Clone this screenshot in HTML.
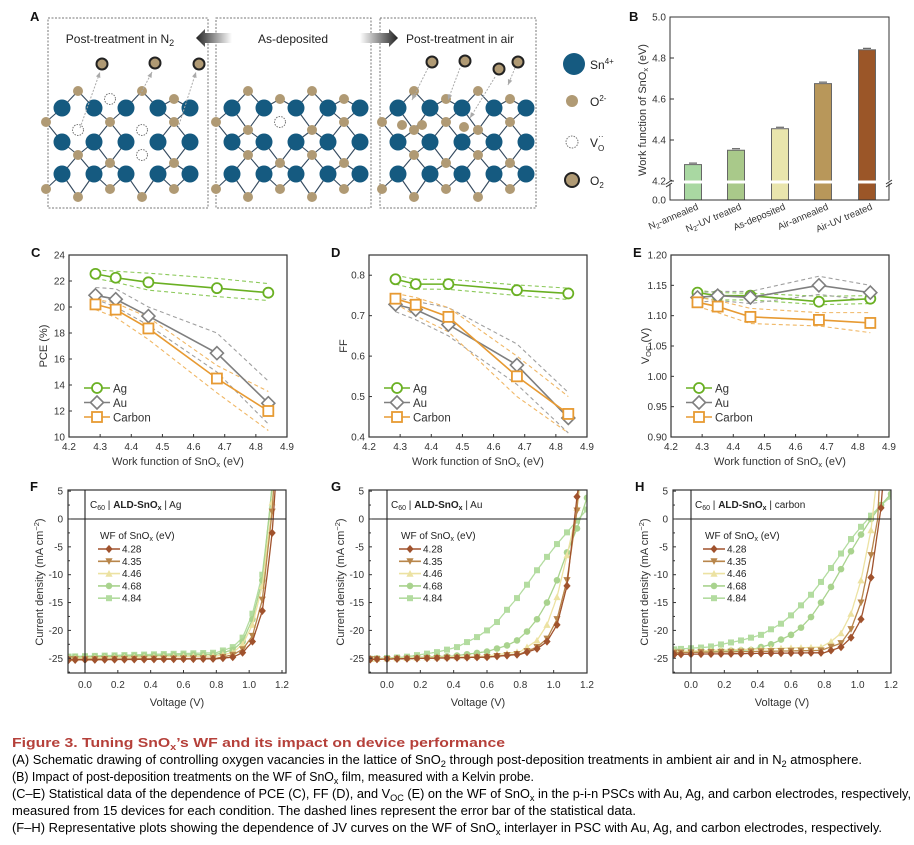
<!DOCTYPE html>
<html><head><meta charset="utf-8"><style>
html,body{margin:0;padding:0;background:#fff;}
svg{display:block;font-family:"Liberation Sans",Arial,sans-serif;}
</style></head><body>
<svg id="s" width="914" height="845" viewBox="0 0 914 845" xmlns="http://www.w3.org/2000/svg">
<defs>
<linearGradient id="gl" x1="0" x2="1"><stop offset="0" stop-color="#222"/><stop offset="1" stop-color="#fff"/></linearGradient>
<linearGradient id="gr" x1="0" x2="1"><stop offset="0" stop-color="#fff"/><stop offset="1" stop-color="#222"/></linearGradient>
</defs>
<g id="g"></g>
<g font-size="12.5">
<text x="12" y="747" fill="#b5403a" font-weight="bold" font-size="13" textLength="493" lengthAdjust="spacingAndGlyphs">Figure 3.  Tuning SnO<tspan font-size="9" dy="3">x</tspan><tspan dy="-3">’s WF and its impact on device performance</tspan></text>
<text x="12" y="764" textLength="850" lengthAdjust="spacingAndGlyphs">(A) Schematic drawing of controlling oxygen vacancies in the lattice of SnO<tspan font-size="9" dy="3">2</tspan><tspan dy="-3"> through post-deposition treatments in ambient air and in N</tspan><tspan font-size="9" dy="3">2</tspan><tspan dy="-3"> atmosphere.</tspan></text>
<text x="12" y="781" textLength="522" lengthAdjust="spacingAndGlyphs">(B) Impact of post-deposition treatments on the WF of SnO<tspan font-size="9" dy="3">x</tspan><tspan dy="-3"> film, measured with a Kelvin probe.</tspan></text>
<text x="12" y="798" textLength="899" lengthAdjust="spacingAndGlyphs">(C–E) Statistical data of the dependence of PCE (C), FF (D), and V<tspan font-size="9" dy="3">OC</tspan><tspan dy="-3"> (E) on the WF of SnO</tspan><tspan font-size="9" dy="3">x</tspan><tspan dy="-3"> in the p-i-n PSCs with Au, Ag, and carbon electrodes, respectively,</tspan></text>
<text x="12" y="815" textLength="624" lengthAdjust="spacingAndGlyphs">measured from 15 devices for each condition. The dashed lines represent the error bar of the statistical data.</text>
<text x="12" y="832" textLength="870" lengthAdjust="spacingAndGlyphs">(F–H) Representative plots showing the dependence of JV curves on the WF of SnO<tspan font-size="9" dy="3">x</tspan><tspan dy="-3"> interlayer in PSC with Au, Ag, and carbon electrodes, respectively.</tspan></text>
</g>
</svg>
<script>
var out=[];
function a(s){out.push(s);}
function t(x,y,s,o){o=o||{};a('<text x="'+x+'" y="'+y+'" font-size="'+(o.fs||10)+'" fill="'+(o.c||'#333')+'" text-anchor="'+(o.an||'start')+'"'+(o.w?' font-weight="bold"':'')+(o.tr?' transform="'+o.tr+'"':'')+'>'+s+'</text>');}
// ---------- Panel A ----------
t(30,21,'A',{fs:13,w:1,c:'#111'});
[[48,208],[216,371],[380,536]].forEach(function(b){a('<rect x="'+b[0]+'" y="18" width="'+(b[1]-b[0])+'" height="190" fill="none" stroke="#777" stroke-dasharray="2,1.5" stroke-width="1"/>');});
t(120,43,'Post-treatment in N<tspan font-size="9" dy="3">2</tspan>',{fs:12,an:'middle',c:'#222'});
t(293,43,'As-deposited',{fs:12,an:'middle',c:'#222'});
t(460,43,'Post-treatment in air',{fs:12,an:'middle',c:'#222'});
a('<polygon points="196,38 205,29 205,33 232,33 232,43 205,43 205,47" fill="url(#gl)"/>');
a('<polygon points="398,38 389,29 389,33 360,33 360,43 389,43 389,47" fill="url(#gr)"/>');
function lattice(x0,vac,extra){
 var cols=[0,32,64,96,128].map(function(d){return x0+d;}),rows=[108,142,174];
 var os=[];
 var lv=[[94,-1],[125,0],[158,1],[192,2]];
 lv.forEach(function(L,li){
  for(var i=0;i<5;i++){
   var ox=cols[i]+(li%2?16:-16)+((li==3)?0:0);
   if(li%2==0) ox=cols[i]+16; else ox=cols[i]-16+32*(i==0?0:0);
   var oy=L[0]+((i%2)?5:-3);
   if(ox>cols[4]+10) continue;
   var key=li+'_'+i;
   var isV=vac.indexOf(key)>=0;
   // bonds
   var ab=L[1],bl=L[1]+1;
   [[i,ab],[i+(li%2?-1:1),ab],[i,bl],[i+(li%2?-1:1),bl]].forEach(function(p){
     if(p[0]>=0&&p[0]<5&&p[1]>=0&&p[1]<3&&!isV) a('<line x1="'+ox+'" y1="'+oy+'" x2="'+cols[p[0]]+'" y2="'+rows[p[1]]+'" stroke="#34495e" stroke-width="1.1"/>');
   });
   os.push([ox,oy,isV]);
  }
 });
 rows.forEach(function(y){cols.forEach(function(x){a('<circle cx="'+x+'" cy="'+y+'" r="8.5" fill="#155a80"/>');});});
 os.forEach(function(o){ if(o[2]) a('<circle cx="'+o[0]+'" cy="'+o[1]+'" r="5.5" fill="#fff" stroke="#777" stroke-dasharray="1.5,1.2"/>'); else a('<circle cx="'+o[0]+'" cy="'+o[1]+'" r="5" fill="#b09a74"/>');});
}
lattice(62,['0_1','1_3','2_2','1_1']);
lattice(232,['1_2']);
lattice(398,[]);
[[402,125],[422,125],[464,127]].forEach(function(p){a('<circle cx="'+p[0]+'" cy="'+p[1]+'" r="5" fill="#b09a74"/>');});
function o2(x,y){a('<circle cx="'+x+'" cy="'+y+'" r="5.5" fill="#b09a74" stroke="#222" stroke-width="2"/>');}
[[102,64],[155,63],[199,64]].forEach(function(p){o2(p[0],p[1]);});
[[432,62],[465,61],[499,69],[518,62]].forEach(function(p){o2(p[0],p[1]);});
function darr(x1,y1,x2,y2){a('<line x1="'+x1+'" y1="'+y1+'" x2="'+x2+'" y2="'+y2+'" stroke="#aaa" stroke-dasharray="2,1.5"/>');var ang=Math.atan2(y2-y1,x2-x1);a('<polygon points="'+x2+','+y2+' '+(x2-6*Math.cos(ang-0.4))+','+(y2-6*Math.sin(ang-0.4))+' '+(x2-6*Math.cos(ang+0.4))+','+(y2-6*Math.sin(ang+0.4))+'" fill="#aaa"/>');}
darr(80,128,100,72);darr(140,95,152,72);darr(178,128,196,72);
darr(428,68,412,100);darr(460,68,448,100);darr(495,77,470,118);darr(515,68,508,85);
a('<circle cx="574" cy="64" r="11" fill="#155a80"/>');t(590,69,'Sn<tspan font-size="8" dy="-5">4+</tspan>',{fs:12,c:'#222'});
a('<circle cx="572" cy="101" r="6" fill="#b09a74"/>');t(590,106,'O<tspan font-size="8" dy="-5">2-</tspan>',{fs:12,c:'#222'});
a('<circle cx="572" cy="142" r="6" fill="#fff" stroke="#777" stroke-dasharray="1.5,1.2"/>');t(590,147,'V<tspan font-size="8" dy="4">O</tspan><tspan font-size="8" dx="-6" dy="-12">··</tspan>',{fs:12,c:'#222'});
a('<circle cx="572" cy="180" r="7" fill="#b09a74" stroke="#222" stroke-width="2"/>');t(590,185,'O<tspan font-size="8" dy="3">2</tspan>',{fs:12,c:'#222'});
// ---------- Panel B ----------
t(629,21,'B',{fs:13,w:1,c:'#111'});
(function(){
 var L=670,R=889,T=17,B=200;
 function sy(v){return 181-(v-4.2)*(181-58)/0.6;}
 var bars=[[693,4.28,'#a9d8a2','N<tspan font-size="7" dy="2">2</tspan><tspan dy="-2">-annealed</tspan>'],[736,4.35,'#a9c98a','N<tspan font-size="7" dy="2">2</tspan><tspan dy="-2">-UV treated</tspan>'],[780,4.455,'#e9e5ad','As-deposited'],[823,4.675,'#b8975a','Air-annealed'],[867,4.84,'#9b5628','Air-UV treated']];
 bars.forEach(function(b){var y=sy(b[1]);a('<rect x="'+(b[0]-8.5)+'" y="'+y+'" width="17" height="'+(B-y)+'" fill="'+b[2]+'" stroke="#666" stroke-width="1"/>');
   a('<line x1="'+(b[0]-4)+'" y1="'+(y-1.5)+'" x2="'+(b[0]+4)+'" y2="'+(y-1.5)+'" stroke="#444"/>');
   t(b[0]+6,209,b[3],{fs:9.5,an:'end',tr:'rotate(-23 '+(b[0]+6)+' 209)'});});
 a('<rect x="'+L+'" y="'+T+'" width="'+(R-L)+'" height="'+(B-T)+'" fill="none" stroke="#333" stroke-width="1"/>');
 a('<rect x="'+(L-4)+'" y="180.5" width="'+(R-L+8)+'" height="3" fill="#fff"/>');
 a('<path d="M'+(L-4)+',184 l6,-4 M'+(L-4)+',187 l6,-4 M'+(R-3)+',184 l6,-4 M'+(R-3)+',187 l6,-4" stroke="#333"/>');
 [[5.0,'5.0'],[4.8,'4.8'],[4.6,'4.6'],[4.4,'4.4'],[4.2,'4.2']].forEach(function(p){var y=sy(p[0]);t(L-4,y+3.5,p[1],{fs:10,an:'end'});a('<line x1="'+L+'" x2="'+(L+4)+'" y1="'+y+'" y2="'+y+'" stroke="#333"/>');});
 t(L-4,B+3.5,'0.0',{fs:10,an:'end'});
 t(646,110,'Work function of SnO<tspan font-size="7.5" dy="2">x</tspan><tspan dy="-2"> (eV)</tspan>',{fs:11,an:'middle',tr:'rotate(-90 646 110)'});
})();
// ---------- Panels C-E ----------
var X=[4.285,4.35,4.455,4.675,4.84];
function stat(L,letter,ymin,ymax,ticks,fmt,ylab,data){
 var R=L+218,T=255,B=437;
 function sx(v){return L+(v-4.2)/0.7*(R-L);} function sy(v){return B-(v-ymin)/(ymax-ymin)*(B-T);}
 t(L-38,T+2,letter,{fs:13,w:1,c:'#111'});
 var cols=[['#6ab023','#8cc95a'],['#7f7f7f','#a0a0a0'],['#e79a32','#f0b765']];
 data.forEach(function(d,k){
  function pl(arr,dash,col,w){a('<polyline points="'+arr.map(function(v,i){return sx(X[i])+','+sy(v);}).join(' ')+'" fill="none" stroke="'+col+'" stroke-width="'+w+'"'+(dash?' stroke-dasharray="4,3"':'')+'/>');}
  pl(d[1],1,cols[k][1],1.1);pl(d[2],1,cols[k][1],1.1);
 });
 data.forEach(function(d,k){
  a('<polyline points="'+d[0].map(function(v,i){return sx(X[i])+','+sy(v);}).join(' ')+'" fill="none" stroke="'+cols[k][0]+'" stroke-width="1.6"/>');
  d[0].forEach(function(v,i){mk(k,sx(X[i]),sy(v),cols[k][0]);});
 });
 a('<rect x="'+L+'" y="'+T+'" width="'+(R-L)+'" height="'+(B-T)+'" fill="none" stroke="#333" stroke-width="1.2"/>');
 ticks.forEach(function(v){var y=sy(v);t(L-4,y+3.5,fmt(v),{fs:10,an:'end'});a('<line x1="'+L+'" x2="'+(L+3)+'" y1="'+y+'" y2="'+y+'" stroke="#333"/>');});
 for(var v=4.2;v<4.95;v+=0.1){var x=sx(v);t(x,450,v.toFixed(1),{fs:10,an:'middle'});a('<line x1="'+x+'" x2="'+x+'" y1="'+B+'" y2="'+(B-3)+'" stroke="#333"/>');}
 t((L+R)/2,465,'Work function of SnO<tspan font-size="7.5" dy="2">x</tspan><tspan dy="-2"> (eV)</tspan>',{fs:11,an:'middle'});
 t(L-22,(T+B)/2,ylab,{fs:11,an:'middle',tr:'rotate(-90 '+(L-22)+' '+(T+B)/2+')'});
 ['Ag','Au','Carbon'].forEach(function(n,k){var y=388+k*14.5;a('<line x1="'+(L+15)+'" x2="'+(L+41)+'" y1="'+y+'" y2="'+y+'" stroke="'+cols[k][0]+'" stroke-width="1.6"/>');mk(k,L+28,y,cols[k][0]);t(L+44,y+4.5,n,{fs:11.5});});
}
function mk(k,x,y,c){
 if(k==0) a('<circle cx="'+x+'" cy="'+y+'" r="5" fill="#fff" stroke="'+c+'" stroke-width="1.8"/>');
 else if(k==1) a('<polygon points="'+x+','+(y-6.5)+' '+(x+6.5)+','+y+' '+x+','+(y+6.5)+' '+(x-6.5)+','+y+'" fill="#fff" stroke="'+c+'" stroke-width="1.6"/>');
 else a('<rect x="'+(x-5)+'" y="'+(y-5)+'" width="10" height="10" fill="#fff" stroke="'+c+'" stroke-width="1.8"/>');
}
stat(69,'C',10,24,[10,12,14,16,18,20,22,24],function(v){return v;},'PCE (%)',[
 [[22.55,22.25,21.9,21.45,21.1],[22.85,22.75,22.6,22.2,21.8],[22.2,21.9,21.3,20.8,20.5]],
 [[20.9,20.6,19.3,16.45,12.6],[21.5,21.4,20.0,18.0,14.3],[20.6,20.0,18.6,15.0,11.0]],
 [[20.2,19.8,18.35,14.5,12.0],[20.6,20.3,19.2,15.5,13.5],[19.8,19.2,17.5,13.4,10.5]]]);
stat(369,'D',0.4,0.85,[0.4,0.5,0.6,0.7,0.8],function(v){return v.toFixed(1);},'FF',[
 [[0.79,0.778,0.778,0.763,0.755],[0.8,0.79,0.79,0.776,0.768],[0.778,0.766,0.765,0.75,0.74]],
 [[0.728,0.715,0.678,0.578,0.447],[0.745,0.735,0.72,0.63,0.51],[0.71,0.69,0.65,0.53,0.41]],
 [[0.742,0.727,0.697,0.55,0.457],[0.755,0.745,0.72,0.6,0.5],[0.73,0.7,0.66,0.5,0.41]]]);
stat(671,'E',0.9,1.2,[0.9,0.95,1.0,1.05,1.1,1.15,1.2],function(v){return v.toFixed(2);},'V<tspan font-size="7.5" dy="2">OC</tspan><tspan dy="-2"> (V)</tspan>',[
 [[1.138,1.133,1.133,1.123,1.128],[1.142,1.138,1.137,1.132,1.133],[1.13,1.126,1.126,1.118,1.12]],
 [[1.13,1.133,1.13,1.15,1.138],[1.138,1.14,1.14,1.165,1.15],[1.122,1.125,1.12,1.135,1.125]],
 [[1.122,1.115,1.098,1.093,1.088],[1.13,1.125,1.112,1.105,1.105],[1.115,1.105,1.087,1.083,1.072]]]);
// ---------- Panels F-H ----------
var JC=['#a0522d','#b8864b','#ece2a2','#a9d38e','#b3dca0'],WF=['4.28','4.35','4.46','4.68','4.84'];
function jmk(k,x,y,c){
 var s=3.6;
 if(k==0) a('<polygon points="'+x+','+(y-s-0.5)+' '+(x+s)+','+y+' '+x+','+(y+s+0.5)+' '+(x-s)+','+y+'" fill="'+c+'"/>');
 else if(k==1) a('<polygon points="'+(x-s)+','+(y-s+0.5)+' '+(x+s)+','+(y-s+0.5)+' '+x+','+(y+s)+'" fill="'+c+'"/>');
 else if(k==2) a('<polygon points="'+(x-s)+','+(y+s-0.5)+' '+(x+s)+','+(y+s-0.5)+' '+x+','+(y-s)+'" fill="'+c+'"/>');
 else if(k==3) a('<circle cx="'+x+'" cy="'+y+'" r="3.3" fill="'+c+'"/>');
 else a('<rect x="'+(x-3)+'" y="'+(y-3)+'" width="6" height="6" fill="'+c+'"/>');
}
function interp(p,v){ if(v<=p[0][0]) return p[0][1]; for(var i=1;i<p.length;i++){if(v<=p[i][0]){var f=(v-p[i-1][0])/(p[i][0]-p[i-1][0]);return p[i-1][1]+f*(p[i][1]-p[i-1][1]);}} var n=p.length;return p[n-1][1]+(v-p[n-1][0])*(p[n-1][1]-p[n-2][1])/(p[n-1][0]-p[n-2][0]);}
function jv(L,x0,letter,el,curves,id){
 var R=L+218,T=490,B=673;
 var px=(R-x0)/ (letter=='F'?1.23:1.2);
 if(letter=='F') px=(282-85)/1.2;
 function sx(v){return x0+v*px;} function sy(j){return 519-j*5.57;}
 t(L-38,T+1,letter,{fs:13,w:1,c:'#111'});
 a('<clipPath id="'+id+'"><rect x="'+L+'" y="'+T+'" width="'+(R-L)+'" height="'+(B-T)+'"/></clipPath>');
 a('<g clip-path="url(#'+id+')">');
 for(var k=4;k>=0;k--){
  var p=curves[k],pts=[];
  for(var v=-0.12;v<=1.25;v+=0.005){pts.push(sx(v).toFixed(1)+','+sy(interp(p,v)).toFixed(1));}
  a('<polyline points="'+pts.join(' ')+'" fill="none" stroke="'+JC[k]+'" stroke-width="1.3"/>');
  var ms=[-0.1];for(var m=-0.06;m<=1.21;m+=0.06)ms.push(m);
  ms.forEach(function(v){var j=interp(p,v);if(j<6)jmk(k,sx(v),sy(j),JC[k]);});
 }
 a('</g>');
 a('<rect x="'+L+'" y="'+T+'" width="'+(R-L)+'" height="'+(B-T)+'" fill="none" stroke="#333" stroke-width="1.2"/>');
 a('<line x1="'+L+'" x2="'+R+'" y1="'+sy(0)+'" y2="'+sy(0)+'" stroke="#222" stroke-width="1.1"/>');
 a('<line x1="'+sx(0)+'" x2="'+sx(0)+'" y1="'+T+'" y2="'+B+'" stroke="#222" stroke-width="1.1"/>');
 for(var j=5;j>=-25;j-=5){var y=sy(j);t(L-5,y+3.5,j,{fs:10,an:'end'});a('<line x1="'+L+'" x2="'+(L+3)+'" y1="'+y+'" y2="'+y+'" stroke="#333"/>');a('<line x1="'+L+'" x2="'+(L+2)+'" y1="'+(y+13.9)+'" y2="'+(y+13.9)+'" stroke="#333"/>');}
 for(var v=0;v<=1.21;v+=0.2){var x=sx(v);t(x,688,v.toFixed(1),{fs:10,an:'middle'});a('<line x1="'+x+'" x2="'+x+'" y1="'+B+'" y2="'+(B-3)+'" stroke="#333"/>');}
 t((L+R)/2,706,'Voltage (V)',{fs:11,an:'middle'});
 t(L-25,582,'Current density (mA cm<tspan font-size="7.5" dy="-4">−2</tspan><tspan dy="4">)</tspan>',{fs:11,an:'middle',tr:'rotate(-90 '+(L-25)+' 582)'});
 t(L+22,508,'C<tspan font-size="7" dy="2">60</tspan><tspan dy="-2"> | </tspan><tspan font-weight="bold">ALD-SnO<tspan font-size="7" dy="2">x</tspan></tspan><tspan dy="-2"> | '+el+'</tspan>',{fs:10,c:'#222'});
 t(L+32,539,'WF of SnO<tspan font-size="7" dy="2">x</tspan><tspan dy="-2"> (eV)</tspan>',{fs:10,c:'#222'});
 for(var k=0;k<5;k++){var y=549+k*12.3;a('<line x1="'+(L+30)+'" x2="'+(L+52)+'" y1="'+y+'" y2="'+y+'" stroke="'+JC[k]+'" stroke-width="1.6"/>');jmk(k,L+41,y,JC[k]);t(L+54,y+3.5,WF[k],{fs:10,c:'#222'});}
}
jv(68,85,'F','Ag',[
 [[-0.1,-25.3],[0.8,-25.1],[0.9,-24.8],[0.96,-24],[1.02,-22],[1.08,-16.5],[1.11,-10],[1.14,-2.5],[1.16,6]],
 [[-0.1,-25.2],[0.8,-25],[0.9,-24.4],[0.96,-23.4],[1.02,-21],[1.08,-14.5],[1.14,1.3],[1.15,6]],
 [[-0.1,-25.0],[0.8,-24.6],[0.9,-24],[0.96,-22.5],[1.02,-19],[1.08,-12],[1.13,0],[1.15,6]],
 [[-0.1,-24.8],[0.8,-24.3],[0.9,-23.5],[0.96,-22],[1.02,-18],[1.08,-11],[1.13,3],[1.14,6]],
 [[-0.1,-24.7],[0.8,-24],[0.9,-23],[0.96,-21.3],[1.02,-17],[1.08,-10],[1.12,0],[1.14,6]]],'cf');
jv(369,387,'G','Au',[
 [[-0.1,-25.2],[0.6,-24.8],[0.8,-24.3],[0.9,-23.3],[0.96,-22],[1.02,-19],[1.08,-12],[1.14,4],[1.15,6]],
 [[-0.1,-25.2],[0.6,-24.8],[0.8,-24.2],[0.9,-23],[0.96,-21.5],[1.02,-18],[1.08,-11],[1.14,1.5],[1.15,6]],
 [[-0.1,-25.1],[0.6,-24.6],[0.8,-23.8],[0.9,-21.8],[0.96,-19],[1.02,-14],[1.08,-6.5],[1.13,0],[1.16,6]],
 [[-0.1,-25.1],[0.4,-24.6],[0.6,-23.8],[0.72,-22.7],[0.78,-21.8],[0.84,-20.2],[0.9,-18],[0.96,-15],[1.02,-11],[1.08,-6],[1.14,-1.7],[1.2,3.8]],
 [[-0.1,-25.1],[0.1,-24.8],[0.3,-23.9],[0.42,-23],[0.54,-21.2],[0.6,-20],[0.66,-18.5],[0.72,-16.3],[0.78,-14.2],[0.84,-11.8],[0.9,-9.2],[0.96,-6.8],[1.02,-4.5],[1.08,-2.4],[1.14,-0.3],[1.2,1.7]]],'cg');
jv(673,691,'H','carbon',[
 [[-0.1,-24.3],[0.8,-24],[0.84,-23.6],[0.9,-23],[0.96,-21.3],[1.02,-18],[1.08,-10.5],[1.14,2],[1.15,6]],
 [[-0.1,-24],[0.78,-23.6],[0.9,-22.3],[0.96,-19.8],[1.02,-15],[1.08,-6.5],[1.12,0],[1.13,6]],
 [[-0.1,-23.8],[0.78,-23],[0.84,-22],[0.9,-20.5],[0.96,-17],[1.02,-11],[1.08,-2],[1.11,6]],
 [[-0.1,-24],[0.36,-23.5],[0.48,-22.5],[0.6,-20.8],[0.66,-19.5],[0.72,-17.6],[0.78,-15],[0.84,-12.2],[0.9,-9],[0.96,-5.8],[1.02,-2.8],[1.08,0],[1.14,2.5],[1.2,4.5]],
 [[-0.1,-23.4],[0.1,-23],[0.3,-21.8],[0.42,-20.8],[0.54,-18.8],[0.6,-17.3],[0.66,-15.5],[0.72,-13.6],[0.78,-11.3],[0.84,-8.8],[0.9,-6.2],[0.96,-3.6],[1.02,-1.4],[1.08,0.6],[1.14,2.5],[1.2,4]]],'ch');
document.getElementById('g').innerHTML=out.join('');
</script>
</body></html>
